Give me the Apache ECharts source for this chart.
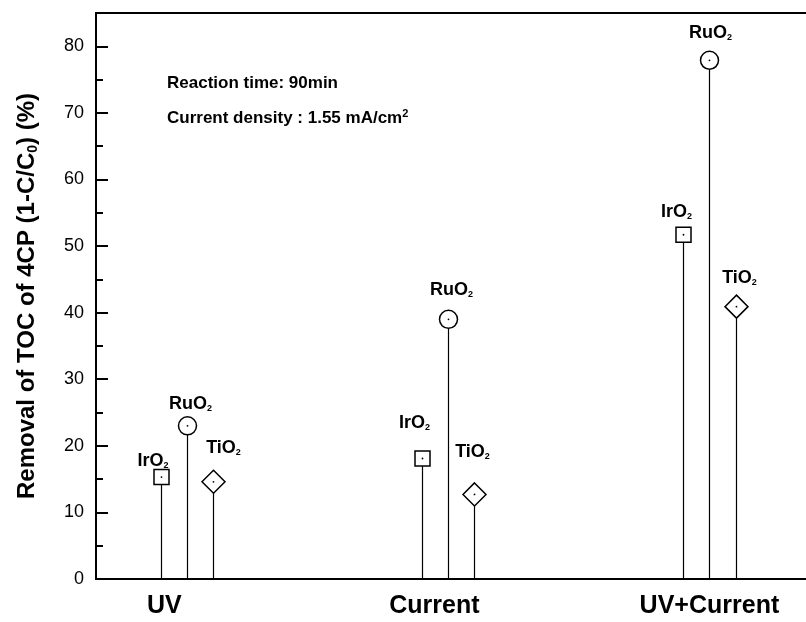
<!DOCTYPE html>
<html><head><meta charset="utf-8">
<script src="https://cdn.jsdelivr.net/npm/echarts@6/dist/echarts.min.js"></script>
<style>html,body{margin:0;padding:0;background:#fff}#c{width:806px;height:622px}</style>
</head><body><div id="c"></div>
<script>
// ---- data ----
const categories = ['UV', 'Current', 'UV+Current'];
const electrodes = ['IrO2', 'RuO2', 'TiO2'];
const IrO2 = [15.3, 18.1, 51.7];
const RuO2 = [23.0, 39.0, 77.9];
const TiO2 = [14.6, 12.7, 40.9];
const yTicks = [0, 10, 20, 30, 40, 50, 60, 70, 80];
const yMinorTicks = [5, 15, 25, 35, 45, 55, 65, 75];
const notes = ['Reaction time: 90min', 'Current density : 1.55 mA/cm{sup|2}'];

// ---- layout / style (not data) ----
const FONT = '"Liberation Sans", Arial, Helvetica, sans-serif';
const groupOffset = { IrO2: -0.1, RuO2: 0, TiO2: 0.1 };
const markerKind = { IrO2: 'square', RuO2: 'circle', TiO2: 'diamond' };
const labelShift = {
  IrO2: [[-8.5, -16], [-8, -35], [-7, -23]],
  RuO2: [[3, -22], [3, -29], [1, -27]],
  TiO2: [[10, -34], [-2, -42], [3, -29]]
};
const catLabelPad = [46, 28, 0];
const valuesBy = { IrO2, RuO2, TiO2 };

function makeSeries(name) {
  const vals = valuesBy[name];
  const kind = markerKind[name];
  const half = kind === 'square' ? 7.5 : kind === 'circle' ? 9 : 11.5;
  return {
    type: 'custom',
    name: name,
    xAxisIndex: 0, yAxisIndex: 0,
    clip: false,
    data: vals.map((v, i) => [i + 1 + groupOffset[name], v, i]),
    renderItem: function (params, api) {
      const x = api.value(0), v = api.value(1), gi = api.value(2);
      const b = api.coord([x, 0]);
      const t = api.coord([x, v]);
      const cx = Math.round(t[0]) + 0.5, cy = t[1];
      const children = [{
        type: 'line',
        shape: { x1: cx, y1: b[1], x2: cx, y2: cy + half },
        style: { stroke: '#000', lineWidth: 1.2 }
      }];
      const ms = { fill: '#fff', stroke: '#000', lineWidth: 1.5 };
      if (kind === 'square') {
        children.push({ type: 'rect', shape: { x: cx - half, y: cy - half, width: 2 * half, height: 2 * half }, style: ms });
      } else if (kind === 'circle') {
        children.push({ type: 'circle', shape: { cx: cx, cy: cy, r: half }, style: ms });
      } else {
        children.push({ type: 'polygon', shape: { points: [[cx, cy - half], [cx + half, cy], [cx, cy + half], [cx - half, cy]] }, style: ms });
      }
      children.push({ type: 'circle', shape: { cx: cx, cy: cy, r: 0.9 }, style: { fill: '#000' } });
      const sh = labelShift[name][gi];
      children.push({
        type: 'text',
        x: cx + sh[0], y: cy + sh[1],
        style: {
          text: name.slice(0, -1) + '{s|' + name.slice(-1) + '}',
          align: 'center', verticalAlign: 'middle',
          fontFamily: FONT, fontWeight: 'bold', fontSize: 18, fill: '#000',
          rich: { s: { fontFamily: FONT, fontWeight: 'bold', fontSize: 9, fill: '#000', verticalAlign: 'bottom', padding: [9, 0, 0, 0] } }
        }
      });
      return { type: 'group', children: children };
    }
  };
}

const chart = echarts.init(document.getElementById('c'), null, { renderer: 'canvas' });
const option = {
  backgroundColor: '#fff',
  animation: false,
  grid: { left: 96, right: -4, top: 13, bottom: 43, containLabel: false },
  xAxis: [{
    type: 'value', min: 0.65, max: 3.37,
    axisLine: { show: true, onZero: false, lineStyle: { color: '#000', width: 2 } },
    axisTick: { show: false },
    splitLine: { show: false },
    axisLabel: {
      customValues: [1, 2, 3],
      margin: 15,
      formatter: function (v) {
        const i = Math.round(v) - 1;
        return '{c' + i + '|' + categories[i] + '}';
      },
      rich: {
        c0: { fontFamily: FONT, fontWeight: 'bold', fontSize: 25, color: '#000', padding: [0, catLabelPad[0], 0, 0] },
        c1: { fontFamily: FONT, fontWeight: 'bold', fontSize: 25, color: '#000', padding: [0, catLabelPad[1], 0, 0] },
        c2: { fontFamily: FONT, fontWeight: 'bold', fontSize: 25, color: '#000', padding: [0, catLabelPad[2], 0, 0] }
      }
    }
  }, {
    type: 'value', position: 'top', min: 0.65, max: 3.37,
    axisLine: { show: true, onZero: false, lineStyle: { color: '#000', width: 2 } },
    axisTick: { show: false }, axisLabel: { show: false }, splitLine: { show: false }
  }],
  yAxis: [{
    type: 'value', min: 0, max: 85, position: 'left',
    axisLine: { show: true, onZero: false, lineStyle: { color: '#000', width: 2 } },
    axisTick: { show: true, inside: true, length: 12, customValues: yTicks, lineStyle: { color: '#000', width: 2 } },
    axisLabel: { customValues: yTicks, margin: 12, fontFamily: FONT, fontSize: 18, color: '#000' },
    splitLine: { show: false },
    name: 'Removal of TOC of 4CP (1-C/C{sub|0}) (%)',
    nameLocation: 'middle',
    nameGap: 56,
    nameRotate: 90,
    nameTextStyle: {
      fontFamily: FONT, fontWeight: 'bold', fontSize: 24, color: '#000',
      rich: { sub: { fontFamily: FONT, fontWeight: 'bold', fontSize: 14, color: '#000', padding: [12, 0, 0, 0] } }
    }
  }, {
    type: 'value', min: 0, max: 85, position: 'left',
    axisLine: { show: false },
    axisTick: { show: true, inside: true, length: 7, customValues: yMinorTicks, lineStyle: { color: '#000', width: 2 } },
    axisLabel: { show: false }, splitLine: { show: false }
  }],
  graphic: notes.map((t, i) => ({
    type: 'text', left: 167, top: 75 + i * 33,
    style: {
      text: t, fontFamily: FONT, fontWeight: 'bold', fontSize: 17, fill: '#000',
      rich: { sup: { fontFamily: FONT, fontWeight: 'bold', fontSize: 11, fill: '#000', padding: [0, 0, 10, 0] } }
    }
  })),
  series: electrodes.map(makeSeries)
};
chart.setOption(option);
</script>
</body></html>
